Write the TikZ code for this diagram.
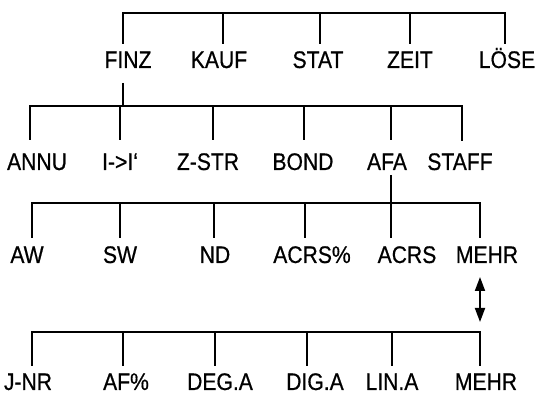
\documentclass[tikz,border=0pt]{standalone}
\usepackage{fontspec}
\setmainfont{Liberation Sans}[FakeStretch=0.88,FakeBold=0.6]
\usetikzlibrary{arrows.meta}

\begin{document}
\begin{tikzpicture}[x=1pt,y=1pt,line width=1.8pt,
    menu/.style={anchor=base,inner sep=0pt,outer sep=0pt,text height=17pt,text depth=0pt,
        font=\fontsize{24}{24}\selectfont},
    bar/.style={line cap=rect}]
    \useasboundingbox (0,0) rectangle (550,394);
    % Zeile 1: Hauptmenue
    \foreach \mylx/\mytx/\myname/\mytext in {128/123/finz/FINZ,219/223/kauf/KAUF,
        318/320/stat/STAT,410/410/zeit/ZEIT,507/505/loese/LÖSE}{
        \node[menu] (\myname) at (\mylx,326) {\mytext};
        \coordinate (\myname-bar) at (\mytx,381);
        \draw[shorten >=7pt] (\myname-bar) -- (\myname-bar |- \myname.north);
    }
    \draw[bar] (finz-bar) -- (loese-bar);
    % Zeile 2: FINZ
    \foreach \mylx/\mytx/\myname/\mytext in {37/30/annu/ANNU,120/120/ii/I->I‘,
        208/213/zstr/Z-STR,303/304/bond/BOND,387/391/afa/AFA,460/462/staff/STAFF}{
        \node[menu] (\myname) at (\mylx,224) {\mytext};
        \coordinate (\myname-bar) at (\mytx,288);
        \draw[shorten >=13pt] (\myname-bar) -- (\myname-bar |- \myname.north);
    }
    \draw[bar] (annu-bar) -- (staff-bar);
    \draw[bar,line width=2.6pt,shorten >=13pt] (afa-bar) -- (staff-bar) -- (staff-bar |- staff.north);
    \draw[shorten <=15pt] (finz-bar |- finz.south) -- (finz-bar |- annu-bar);
    % Zeile 3: AFA
    \foreach \mylx/\mytx/\myname/\mytext in {27/32/aw/AW,120/120/sw/SW,
        215/214/nd/ND,312/305/acrsp/ACRS\%,407/391/acrs/ACRS,487/480/mehra/MEHR}{
        \node[menu] (\myname) at (\mylx,131) {\mytext};
        \coordinate (\myname-bar) at (\mytx,191);
        \draw[shorten >=8pt] (\myname-bar) -- (\myname-bar |- \myname.north);
    }
    \draw[bar] (aw-bar) -- (mehra-bar);
    \draw[shorten <=5pt] (afa-bar |- afa.south) -- (afa-bar |- aw-bar);
    % Zeile 4: MEHR
    \foreach \mylx/\mytx/\myname/\mytext in {28/32/jnr/J-NR,126/123/afp/AF\%,
        220/215/dega/DEG.A,315/307/diga/DIG.A,392/392/lina/LIN.A,486/480/mehrb/MEHR}{
        \node[menu] (\myname) at (\mylx,4) {\mytext};
        \coordinate (\myname-bar) at (\mytx,62);
        \draw[shorten >=7pt] (\myname-bar) -- (\myname-bar |- \myname.north);
    }
    \draw[bar] (jnr-bar) -- (mehrb-bar);
    \draw[{Triangle[length=14pt,width=10pt]}-{Triangle[length=14pt,width=10pt]},
        shorten <=14pt,shorten >=10pt] (mehra-bar |- mehra.south) -- (mehrb-bar);
\end{tikzpicture}
\end{document}
